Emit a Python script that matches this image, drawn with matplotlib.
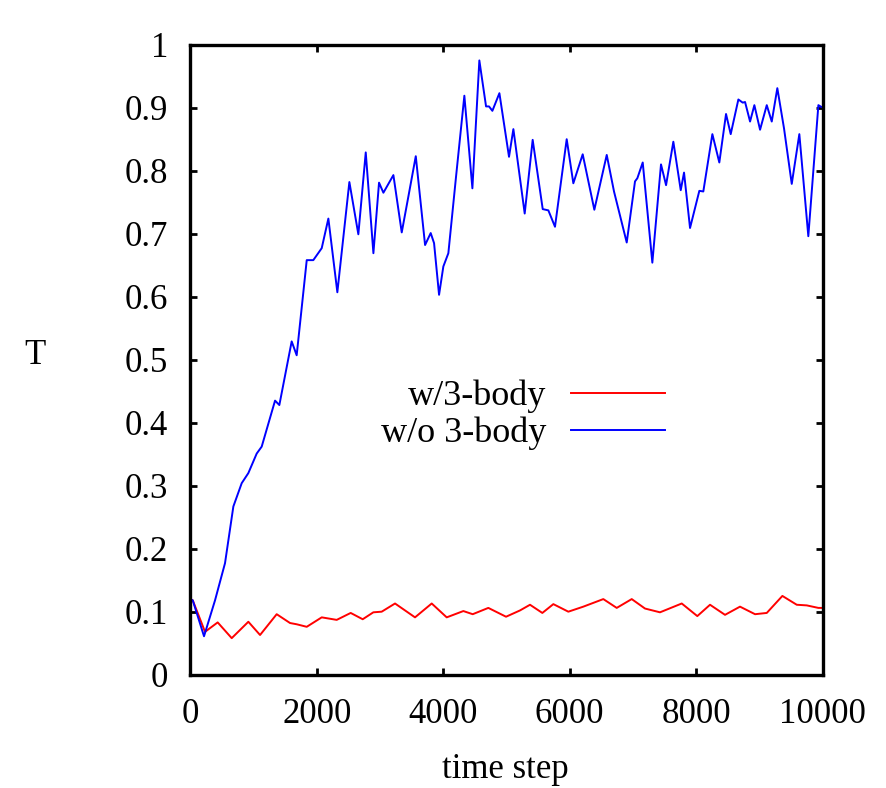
import numpy as np
import matplotlib.pyplot as plt

# values (time step, T)
blue_x = [0, 40, 218, 392, 550, 682, 814, 919, 1051, 1130, 1341, 1409, 1604, 1683,
          1842, 1946, 2079, 2184, 2326, 2516, 2658, 2775, 2896, 2985, 3054, 3212,
          3344, 3449, 3566, 3713, 3802, 3855, 3934, 4002, 4081, 4202, 4334, 4461,
          4571, 4677, 4724, 4777, 4888, 5040, 5109, 5288, 5414, 5573, 5662, 5767,
          5952, 6057, 6205, 6389, 6585, 6700, 6901, 7032, 7069, 7154, 7306, 7443,
          7523, 7638, 7755, 7807, 7902, 8049, 8112, 8255, 8365, 8471, 8545, 8666,
          8735, 8772, 8851, 8919, 9009, 9115, 9194, 9282, 9388, 9510, 9630, 9772,
          9931, 10000]
blue_y = [0.120, 0.118, 0.061, 0.118, 0.177, 0.267, 0.304, 0.320, 0.351, 0.362,
          0.435, 0.428, 0.529, 0.507, 0.658, 0.658, 0.677, 0.724, 0.607, 0.782,
          0.699, 0.829, 0.669, 0.781, 0.765, 0.793, 0.702, 0.759, 0.823, 0.682,
          0.701, 0.685, 0.603, 0.648, 0.669, 0.790, 0.919, 0.772, 0.975, 0.902,
          0.902, 0.895, 0.923, 0.822, 0.866, 0.732, 0.849, 0.739, 0.737, 0.711,
          0.850, 0.780, 0.826, 0.738, 0.825, 0.767, 0.686, 0.783, 0.788, 0.813,
          0.654, 0.810, 0.777, 0.846, 0.769, 0.797, 0.709, 0.768, 0.767, 0.858,
          0.813, 0.890, 0.858, 0.913, 0.908, 0.909, 0.878, 0.904, 0.865, 0.904,
          0.878, 0.931, 0.867, 0.779, 0.858, 0.696, 0.904, 0.900]

red_x = [0, 40, 234, 434, 656, 919, 1104, 1367, 1578, 1684, 1842, 2079, 2316, 2537,
         2727, 2895, 3027, 3238, 3554, 3818, 4055, 4318, 4466, 4713, 4993, 5214,
         5372, 5567, 5741, 5978, 6215, 6531, 6743, 6980, 7190, 7427, 7771, 8017,
         8218, 8455, 8692, 8930, 9115, 9362, 9589, 9747, 9931, 10000]
red_y = [0.120, 0.118, 0.068, 0.083, 0.058, 0.084, 0.063, 0.096, 0.082, 0.080,
         0.076, 0.091, 0.087, 0.098, 0.088, 0.099, 0.100, 0.113, 0.091, 0.113,
         0.091, 0.101, 0.096, 0.106, 0.092, 0.102, 0.111, 0.098, 0.112, 0.100,
         0.108, 0.120, 0.106, 0.120, 0.105, 0.099, 0.113, 0.093, 0.111, 0.095,
         0.108, 0.096, 0.098, 0.125, 0.111, 0.110, 0.106, 0.106]

x_ticks = [0, 2000, 4000, 6000, 8000, 10000]
y_ticks = [0, 0.1, 0.2, 0.3, 0.4, 0.5, 0.6, 0.7, 0.8, 0.9, 1]
y_labels = ['0', '0.1', '0.2', '0.3', '0.4', '0.5', '0.6', '0.7', '0.8', '0.9', '1']

plt.rcParams['font.family'] = ['Liberation Serif', 'DejaVu Serif']
plt.rcParams['font.size'] = 25

fig = plt.figure(figsize=(8.86, 7.88), dpi=100)
ax = fig.add_axes([0.2147, 0.1438, 0.7139, 0.7995])

ax.plot(red_x, red_y, color='#ff0000', lw=1.4, label='w/3-body')
ax.plot(blue_x, blue_y, color='#0000ff', lw=1.4, label='w/o 3-body')

ax.set_xlim(0, 10000)
ax.set_ylim(0, 1)
ax.set_xticks(x_ticks)
ax.set_yticks(y_ticks)
ax.set_yticklabels(y_labels)
ax.tick_params(direction='in', length=5, width=2, top=True, right=True)
ax.tick_params(axis='y', pad=16)
ax.tick_params(axis='x', pad=17)
for sp in ax.spines.values():
    sp.set_linewidth(2.4)

ax.set_xlabel('time step', va='center')
ax.xaxis.set_label_coords(0.498, -0.151)
ax.set_ylabel('T', rotation=0, va='center', ha='center')
ax.yaxis.set_label_coords(-0.245, 0.507)

ax.legend(loc='upper right', bbox_to_anchor=(0.751, 0.468), frameon=False,
          markerfirst=False, fontsize=26, handlelength=2.6, handletextpad=0.7,
          labelspacing=0.1, borderpad=0, borderaxespad=0)

fig.savefig('out.png', dpi=100)
